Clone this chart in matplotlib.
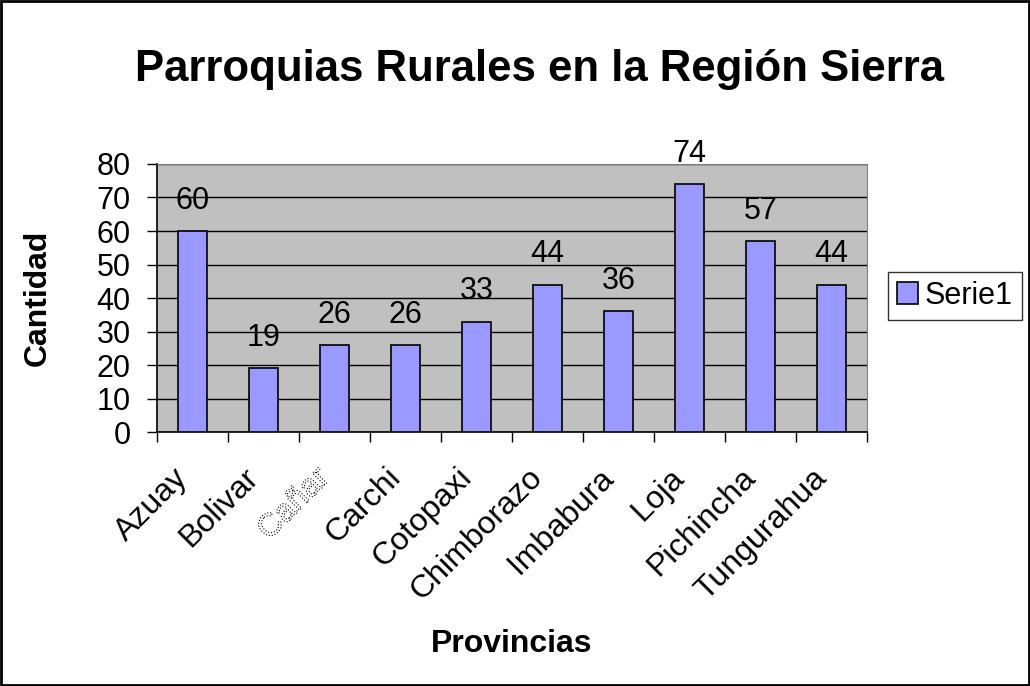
import matplotlib
matplotlib.use("Agg")
import matplotlib.pyplot as plt
import matplotlib.patheffects as pe
import matplotlib.transforms as mtransforms
from matplotlib.patches import Rectangle
import numpy as np

provincias = ['Azuay', 'Bolivar', 'Cañar', 'Carchi', 'Cotopaxi', 'Chimborazo',
              'Imbabura', 'Loja', 'Pichincha', 'Tungurahua']
cantidad = [60, 19, 26, 26, 33, 44, 36, 74, 57, 44]
y_ticks = [0, 10, 20, 30, 40, 50, 60, 70, 80]

plt.rcParams['font.family'] = ['Liberation Sans', 'DejaVu Sans']

fig = plt.figure(figsize=(10.3, 6.86), dpi=100)
ax = fig.add_axes([0.1524, 0.370, 0.6893, 0.391])
ax.set_facecolor('#C0C0C0')

x = np.arange(len(provincias))
bars = ax.bar(x, cantidad, width=0.42, color='#9999FF', edgecolor='black',
              linewidth=1.2, label='Serie1', zorder=3)
for xi, v in zip(x, cantidad):
    ax.annotate(str(v), (xi, v), xytext=(0, 11), textcoords='offset points',
                ha='center', va='bottom', fontsize=22, zorder=4)

ax.set_xlim(-0.5, len(provincias) - 0.5)
ax.set_ylim(0, 80)
ax.set_yticks(y_ticks)
ax.tick_params(axis='y', labelsize=22, length=7, width=1, direction='out', pad=12)
ax.yaxis.grid(True, color='black', linewidth=1, zorder=1)
ax.set_axisbelow(True)

ax.set_xticks(x)
ax.set_xticks(np.arange(len(provincias) + 1) - 0.5, minor=True)
ax.tick_params(axis='x', which='major', length=0, pad=22)
ax.tick_params(axis='x', which='minor', length=7, width=1, direction='out')
labels = ax.set_xticklabels(provincias, rotation=45, ha='right',
                            rotation_mode='anchor', fontsize=23)
# shift the rotated labels a little to the left, as in the original
shift = mtransforms.ScaledTranslation(-0.2, 0, fig.dpi_scale_trans)
for lab in labels:
    lab.set_transform(lab.get_transform() + shift)
# Cañar label drawn as dotted outline, like the original
labels[2].set_color('white')
labels[2].set_path_effects([pe.PathPatchEffect(edgecolor='black', facecolor='white',
                                               linestyle=':', linewidth=0.8)])

for s in ['top', 'right']:
    ax.spines[s].set_color('#808080')
for s in ['left', 'bottom']:
    ax.spines[s].set_color('black')
    ax.spines[s].set_linewidth(1.2)

ax.set_ylabel('Cantidad', fontsize=23, fontweight='bold')
ax.yaxis.set_label_coords(-0.147, 0.5)
ax.set_xlabel('Provincias', fontsize=23, fontweight='bold')
ax.xaxis.set_label_coords(0.5, -0.735)

fig.suptitle('Parroquias Rurales en la Región Sierra', fontsize=31.5,
             fontweight='bold', x=0.524, y=0.928)

leg = fig.legend(loc='upper left', bbox_to_anchor=(0.862, 0.604), fontsize=22,
                 frameon=True, fancybox=False, edgecolor='black',
                 handlelength=0.7, handleheight=0.7, handletextpad=0.2,
                 borderpad=0.3, borderaxespad=0)
leg.get_frame().set_linewidth(1)

fig.patches.append(Rectangle((0.001, 0.001), 0.998, 0.998, transform=fig.transFigure,
                             fill=False, edgecolor='black', linewidth=2))

fig.savefig('out.png', dpi=100)
